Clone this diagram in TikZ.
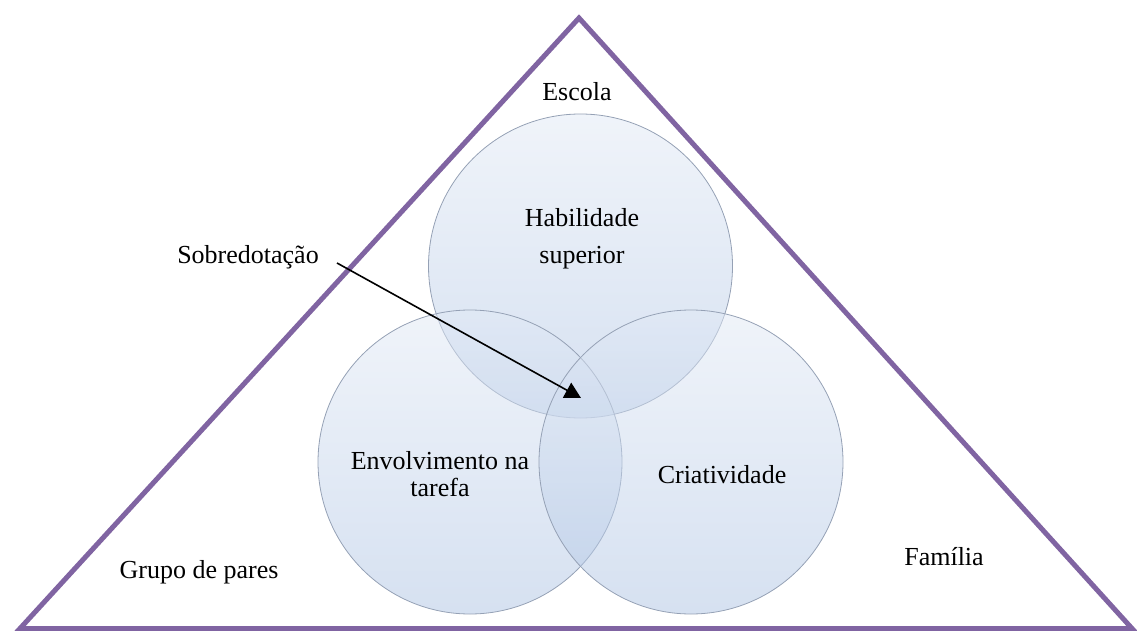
\documentclass[tikz,border=0pt]{standalone}
\usepackage{fontspec}
\setmainfont{LiberationSerif}[Extension=.ttf, UprightFont=*-Regular, BoldFont=*-Bold]
\usetikzlibrary{arrows.meta}
\definecolor{frame}{HTML}{8064A2}
\definecolor{ringline}{HTML}{95A1B5}
\definecolor{shadetop}{RGB}{225,233,245}
\definecolor{shadebot}{RGB}{173,195,227}
\tikzset{
  ring/.style={circle, minimum size=304pt, inner sep=0pt, draw=ringline, line width=0.8pt,
    top color=shadetop, bottom color=shadebot, fill opacity=0.5, draw opacity=1},
  lbl/.style={font=\rmfamily\fontsize{26}{37}\selectfont, inner sep=0pt, align=center},
  lbltight/.style={font=\rmfamily\fontsize{26}{27}\selectfont, inner sep=0pt, align=center},
}
\begin{document}
\begin{tikzpicture}[x=1pt, y=-1pt]
  \useasboundingbox (0,0) rectangle (1137,631);
  % environment triangle
  \coordinate (apex) at (579,18);
  \coordinate (bl) at (20,628.5);
  \coordinate (br) at (1132,628.5);
  \draw[frame, line width=5pt, line join=miter] (apex) -- (br) -- (bl) -- cycle;
  % three overlapping rings
  \node[ring] (top) at (580.5,266) {};
  \node[ring] (left) at (470,462) {};
  \node[ring] (right) at (691,462) {};
  % labels (base anchor sits on the last line)
  \node[lbl, anchor=base] (escola) at (577,101) {Escola};
  \node[lbl, anchor=base] (hab) at (582,263) {Habilidade\\superior};
  \node[lbltight, anchor=base] (env) at (440,496) {Envolvimento na\\tarefa};
  \node[lbl, anchor=base] (cri) at (722,483) {Criatividade};
  \node[lbl, anchor=base] (grupo) at (199,578) {Grupo de pares};
  \node[lbl, anchor=base] (fam) at (944,565) {Família};
  \node[lbl, anchor=base] (sob) at (248,263) {Sobredotação};
  % pointer to the common intersection
  \coordinate (sobtail) at (337,263);
  \coordinate (sobtip) at (581,398);
  \draw[line width=1.6pt, -{Triangle[length=16pt, width=17pt]}] (sobtail) -- (sobtip);
\end{tikzpicture}
\end{document}
